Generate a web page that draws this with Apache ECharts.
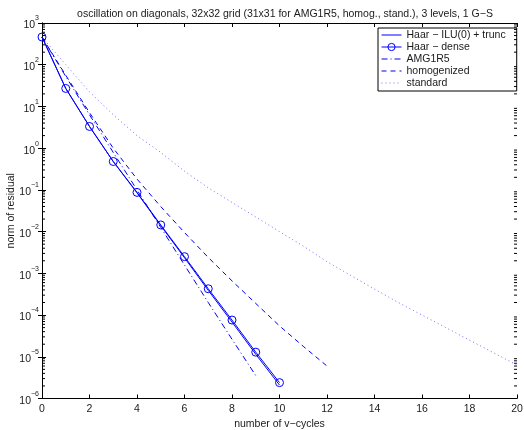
<!DOCTYPE html>
<html>
<head>
<meta charset="utf-8">
<script src="https://cdn.jsdelivr.net/npm/echarts@6/dist/echarts.min.js"></script>
<style>
html,body{margin:0;padding:0;background:#fff;}
#chart{width:524px;height:430px;}
</style>
</head>
<body>
<div id="chart"></div>
<script>
// ---- data ----
var cyclesHaar = [0,1,2,3,4,5,6,7,8,9,10];
var haarIlu   = [461, 27, 3.31, 0.479, 0.085, 0.0139, 0.00236, 3.9e-4, 6.8e-5, 1.15e-5, 2.1e-6];
var haarDense = [461, 27, 3.31, 0.479, 0.0871, 0.01445, 0.00251, 4.27e-4, 7.59e-5, 1.29e-5, 2.4e-6];
var cyclesAmg = [0,1,2,3,4,5,6,7,8,9];
var amg1r5    = [457, 52.5, 6.3, 0.79, 0.1, 0.0126, 1.58e-3, 2.0e-4, 2.63e-5, 3.55e-6];
var cyclesHom = [0,1,2,3,4,5,6,7,8,9,10,11,12];
var homog     = [457, 56, 7.1, 1.0, 0.182, 0.0398, 9.5e-3, 2.4e-3, 6.6e-4, 1.9e-4, 5.5e-5, 1.78e-5, 6.0e-6];
var cyclesStd = [0,1,2,3,4,5,6,7,8,9,10,11,12,13,14,15,16,17,18,19,20];
var standard  = [457, 100, 22.4, 6.3, 2.0, 0.79, 0.28, 0.112, 0.05, 0.0224, 0.01, 4.5e-3, 1.9e-3, 8.9e-4, 4.2e-4, 2.0e-4, 1.0e-4, 5.0e-5, 2.5e-5, 1.26e-5, 6.3e-6];
var seriesNames = ['Haar \u2212 ILU(0) + trunc', 'Haar \u2212 dense', 'AMG1R5', 'homogenized', 'standard'];
var xTicks = [0,2,4,6,8,10,12,14,16,18,20];
var yDecades = [-6,-5,-4,-3,-2,-1,0,1,2,3];
var titleText = 'oscillation on diagonals, 32x32 grid (31x31 for AMG1R5, homog., stand.), 3 levels, 1 G\u2212S';
var xName = 'number of v\u2212cycles';
var yName = 'norm of residual';

function pairs(xs, ys){ return xs.map(function(x,i){ return [x, ys[i]]; }); }

// minor tick values for the log axis (2..9 x 10^k)
var minorVals = [];
for (var k = yDecades[0]; k < yDecades[yDecades.length-1]; k++) {
  for (var m = 2; m <= 9; m++) minorVals.push([0, m * Math.pow(10, k)]);
}

var FONT = 'Liberation Sans, Arial, Helvetica, sans-serif';
var FS = 10.5;
var BLUE = '#0000ff';
var LIGHTBLUE = '#6f6fff';
var TXT = '#1a1a1a';
var CLEAR = 'rgba(255,255,255,0)';

var styles = [
  {color: BLUE, type: 'solid', marker: false},
  {color: BLUE, type: 'solid', marker: true},
  {color: BLUE, type: [6, 3, 1, 3], marker: false},
  {color: BLUE, type: [5, 4], marker: false},
  {color: LIGHTBLUE, type: [1, 3], marker: false}
];

var chart = echarts.init(document.getElementById('chart'), null, {renderer:'canvas'});
var axisLine = {show:true, lineStyle:{color:'#000', width:1}};
var option = {
  animation: false,
  backgroundColor: '#fff',
  title: {
    text: titleText, left: 280, top: 4, textAlign: 'center',
    textStyle: {fontFamily: FONT, fontSize: FS, fontWeight: 'normal', color: TXT}
  },
  grid: {left: 42, right: 7, top: 23, bottom: 31.5, containLabel: false, outerBoundsMode: 'none'},
  legend: {
    data: seriesNames.map(function(n, i){
      var s = styles[i];
      return {
        name: n,
        itemStyle: s.marker
          ? {color: CLEAR, borderColor: s.color, borderWidth: 1, opacity: 1}
          : {color: CLEAR, borderColor: CLEAR, borderWidth: 0, opacity: 0},
        lineStyle: {color: s.color, width: 1, type: s.type, opacity: 1}
      };
    }),
    orient: 'vertical', left: 378, top: 28,
    itemWidth: 20, itemHeight: 9, itemGap: 0,
    padding: [1, 11, 2, 3],
    borderColor: '#000', borderWidth: 1, backgroundColor: '#fff',
    textStyle: {fontFamily: FONT, fontSize: FS, color: TXT, lineHeight: 12}
  },
  xAxis: [{
    type: 'value', min: 0, max: 20, interval: 2, position: 'bottom',
    axisLine: axisLine,
    axisTick: {show:true, inside:true, length:4, lineStyle:{color:'#000'}},
    axisLabel: {fontFamily: FONT, fontSize: FS, color: TXT, margin: 5},
    splitLine: {show:false},
    name: xName, nameLocation: 'middle', nameGap: 20, nameMoveOverlap: false,
    nameTextStyle: {fontFamily: FONT, fontSize: FS, color: TXT}
  },{
    type: 'value', min: 0, max: 20, interval: 2, position: 'top',
    axisLine: axisLine,
    axisTick: {show:true, inside:true, length:4, lineStyle:{color:'#000'}},
    axisLabel: {show:false}, splitLine: {show:false}
  }],
  yAxis: [{
    type: 'log', logBase: 10, min: 1e-6, max: 1e3, position: 'left',
    axisLine: axisLine,
    axisTick: {show:true, inside:true, length:4, lineStyle:{color:'#000'}},
    splitLine: {show:false},
    axisLabel: {
      margin: 3,
      formatter: function(v){
        var e = Math.round(Math.log(v)/Math.LN10);
        var es = e < 0 ? '\u2212' + (-e) : '' + e;
        return '{b|10}{s|' + es + '}';
      },
      rich: {
        b: {fontFamily: FONT, fontSize: FS, color: TXT, lineHeight: 16, verticalAlign: 'bottom'},
        s: {fontFamily: FONT, fontSize: 7, color: TXT, lineHeight: 16, verticalAlign: 'top'}
      }
    },
    name: yName, nameLocation: 'middle', nameGap: 25, nameRotate: 90, nameMoveOverlap: false,
    nameTextStyle: {fontFamily: FONT, fontSize: FS, color: TXT}
  },{
    type: 'log', logBase: 10, min: 1e-6, max: 1e3, position: 'right',
    axisLine: axisLine,
    axisTick: {show:true, inside:true, length:4, lineStyle:{color:'#000'}},
    axisLabel: {show:false}, splitLine: {show:false}
  }],
  series: [
    {
      name: seriesNames[0], type: 'line', data: pairs(cyclesHaar, haarIlu),
      symbol: 'none', color: BLUE, lineStyle: {color: BLUE, width: 1, type: styles[0].type}, z: 5
    },
    {
      name: seriesNames[1], type: 'line', data: pairs(cyclesHaar, haarDense),
      symbol: 'circle', symbolSize: 8, showSymbol: true, color: BLUE,
      itemStyle: {color: CLEAR, borderColor: BLUE, borderWidth: 1},
      lineStyle: {color: BLUE, width: 1, type: styles[1].type}, z: 6
    },
    {
      name: seriesNames[2], type: 'line', data: pairs(cyclesAmg, amg1r5),
      symbol: 'none', color: BLUE,
      lineStyle: {color: BLUE, width: 1, type: styles[2].type}, z: 4
    },
    {
      name: seriesNames[3], type: 'line', data: pairs(cyclesHom, homog),
      symbol: 'none', color: BLUE,
      lineStyle: {color: BLUE, width: 1, type: styles[3].type}, z: 4
    },
    {
      name: seriesNames[4], type: 'line', data: pairs(cyclesStd, standard),
      symbol: 'none', color: LIGHTBLUE,
      lineStyle: {color: LIGHTBLUE, width: 1, type: styles[4].type}, z: 3
    },
    {
      name: 'minorTicks', type: 'custom', data: minorVals, silent: true, z: 10, clip: false,
      encode: {x: 0, y: 1},
      renderItem: function(params, api){
        var v = api.value(1);
        var pl = api.coord([0, v]);
        var pr = api.coord([20, v]);
        return {
          type: 'group',
          children: [
            {type:'line', shape:{x1:pl[0], y1:pl[1], x2:pl[0]+3, y2:pl[1]}, style:{stroke:'#000', lineWidth:1}},
            {type:'line', shape:{x1:pr[0]-3, y1:pr[1], x2:pr[0], y2:pr[1]}, style:{stroke:'#000', lineWidth:1}}
          ]
        };
      }
    }
  ]
};
chart.setOption(option);
</script>
</body>
</html>
